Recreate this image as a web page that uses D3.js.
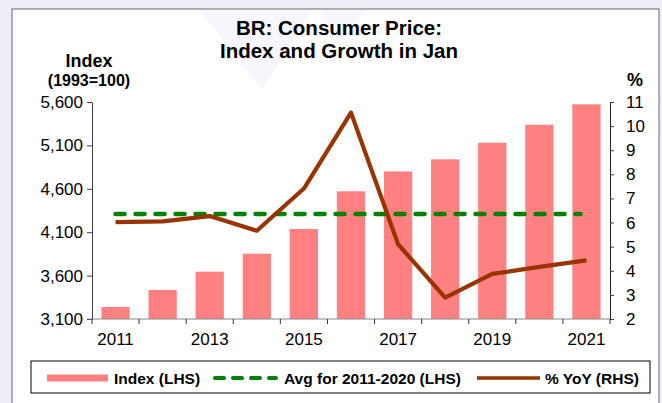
<!DOCTYPE html>
<html><head><meta charset="utf-8">
<script src="https://cdn.jsdelivr.net/npm/d3@7"></script>
<style>
html,body{margin:0;padding:0;background:#eeeef8;}
svg{display:block;font-family:"Liberation Sans",Arial,sans-serif;}
</style></head>
<body>
<svg id="c" width="662" height="403"></svg>
<script>
const years = [2011,2012,2013,2014,2015,2016,2017,2018,2019,2020,2021];
const indexValues = [3238,3434,3645,3852,4137,4571,4801,4940,5131,5338,5573];
const avgValue = 4309;
const yoyValues = [6.02,6.05,6.27,5.66,7.41,10.56,5.10,2.89,3.87,4.16,4.43];
const leftTicks = [3100,3600,4100,4600,5100,5600];
const rightTicks = [2,3,4,5,6,7,8,9,10,11];
const xTickLabels = [2011,2013,2015,2017,2019,2021];
const titleLines = ["BR: Consumer Price:","Index and Growth in Jan"];
const legendItems = ["Index (LHS)","Avg for 2011-2020 (LHS)","% YoY (RHS)"];

const FONT = "Liberation Sans, Arial, sans-serif";
const svg = d3.select("#c");
// frame
svg.append("rect").attr("x",12).attr("y",9).attr("width",647).attr("height",420)
  .attr("fill","#fff").attr("stroke","#808080").attr("stroke-width",1.2);
// faint watermark
const wm = svg.append("g").attr("fill","#f6f6fc");
wm.append("path").attr("d","M200,10 L312,10 L262,90 Z");
wm.append("path").attr("d","M318,10 L365,10 L340,40 Z");

const x = d3.scaleBand().domain(years).range([92,610]).paddingInner(0.4).paddingOuter(0.2);
const xb = d3.scaleBand().domain(years).range([92,610]);
const yL = d3.scaleLinear().domain([3100,5600]).range([319,102]);
const yR = d3.scaleLinear().domain([2,11]).range([319,102]);

// bars
svg.append("g").selectAll("rect").data(years).join("rect")
  .attr("x",d=>x(d)).attr("width",x.bandwidth())
  .attr("y",(d,i)=>yL(indexValues[i])).attr("height",(d,i)=>319-yL(indexValues[i]))
  .attr("fill","#ff8080");

// avg dashed line
svg.append("line")
  .attr("x1",xb(2011)+xb.bandwidth()/2).attr("x2",xb(2021)+xb.bandwidth()/2-6)
  .attr("y1",yL(avgValue)).attr("y2",yL(avgValue))
  .attr("stroke","#008000").attr("stroke-width",4.5).attr("stroke-dasharray","9,11")
  .attr("stroke-linecap","round");

// yoy line
const line = d3.line().x((d,i)=>xb(years[i])+xb.bandwidth()/2).y(d=>yR(d));
svg.append("path").datum(yoyValues).attr("d",line)
  .attr("fill","none").attr("stroke","#993300").attr("stroke-width",4.2)
  .attr("stroke-linejoin","round");

// left axis
const gl = svg.append("g").attr("transform","translate(92,0)")
  .call(d3.axisLeft(yL).tickValues(leftTicks).tickFormat(d3.format(",")).tickSize(5).tickSizeOuter(0).tickPadding(4));
gl.attr("font-size",17).attr("font-family",FONT);
gl.select(".domain").attr("stroke","#404040");
gl.selectAll(".tick line").attr("stroke","#404040");
gl.selectAll("text").attr("fill","#000");

// right axis
const gr = svg.append("g").attr("transform","translate(610,0)")
  .call(d3.axisRight(yR).tickValues(rightTicks).tickSize(4).tickSizeOuter(0).tickPadding(12));
gr.attr("font-size",17).attr("font-family",FONT);
gr.select(".domain").attr("stroke","#202020");
gr.selectAll(".tick line").attr("stroke","#404040");
gr.selectAll("text").attr("fill","#000");

// bottom axis
const boundaries = years.map(d=>xb(d)).concat([610]);
const gb = svg.append("g").attr("font-family",FONT);
gb.append("line").attr("x1",88).attr("x2",610).attr("y1",319).attr("y2",319).attr("stroke","#888").attr("stroke-width",1.2);
gb.selectAll("line.t").data(boundaries).join("line").attr("class","t")
  .attr("x1",d=>d).attr("x2",d=>d).attr("y1",319).attr("y2",324).attr("stroke","#333");
gb.selectAll("text").data(xTickLabels).join("text")
  .attr("x",d=>xb(d)+xb.bandwidth()/2).attr("y",345).attr("text-anchor","middle")
  .attr("font-size",17).text(d=>d);

// titles
svg.selectAll("text.title").data(titleLines).join("text").attr("class","title")
  .attr("x",339).attr("y",(d,i)=>35+i*23).attr("text-anchor","middle")
  .attr("font-size",20.5).attr("font-weight","bold").text(d=>d);
svg.append("text").attr("x",89).attr("y",67).attr("text-anchor","middle")
  .attr("font-size",18).attr("font-weight","bold").text("Index");
svg.append("text").attr("x",89).attr("y",86).attr("text-anchor","middle")
  .attr("font-size",16).attr("font-weight","bold").text("(1993=100)");
svg.append("text").attr("x",635).attr("y",86).attr("text-anchor","middle")
  .attr("font-size",18).attr("font-weight","bold").text("%");

// legend
const lg = svg.append("g");
lg.append("rect").attr("x",31).attr("y",361).attr("width",619).attr("height",32)
  .attr("fill","#fff").attr("stroke","#000").attr("stroke-width",1);
const ly = 378;
lg.append("line").attr("x1",47).attr("x2",108).attr("y1",ly).attr("y2",ly)
  .attr("stroke","#ff8080").attr("stroke-width",7);
lg.append("line").attr("x1",215).attr("x2",276).attr("y1",ly).attr("y2",ly)
  .attr("stroke","#008000").attr("stroke-width",4).attr("stroke-dasharray","9,9").attr("stroke-linecap","round");
lg.append("line").attr("x1",477).attr("x2",540).attr("y1",ly).attr("y2",ly)
  .attr("stroke","#993300").attr("stroke-width",3.5);
const lx = [114,284,545];
lg.selectAll("text").data(legendItems).join("text")
  .attr("x",(d,i)=>lx[i]).attr("y",ly+5.5).attr("font-size",15.5).attr("font-weight","bold").text(d=>d);
</script>
</body></html>
